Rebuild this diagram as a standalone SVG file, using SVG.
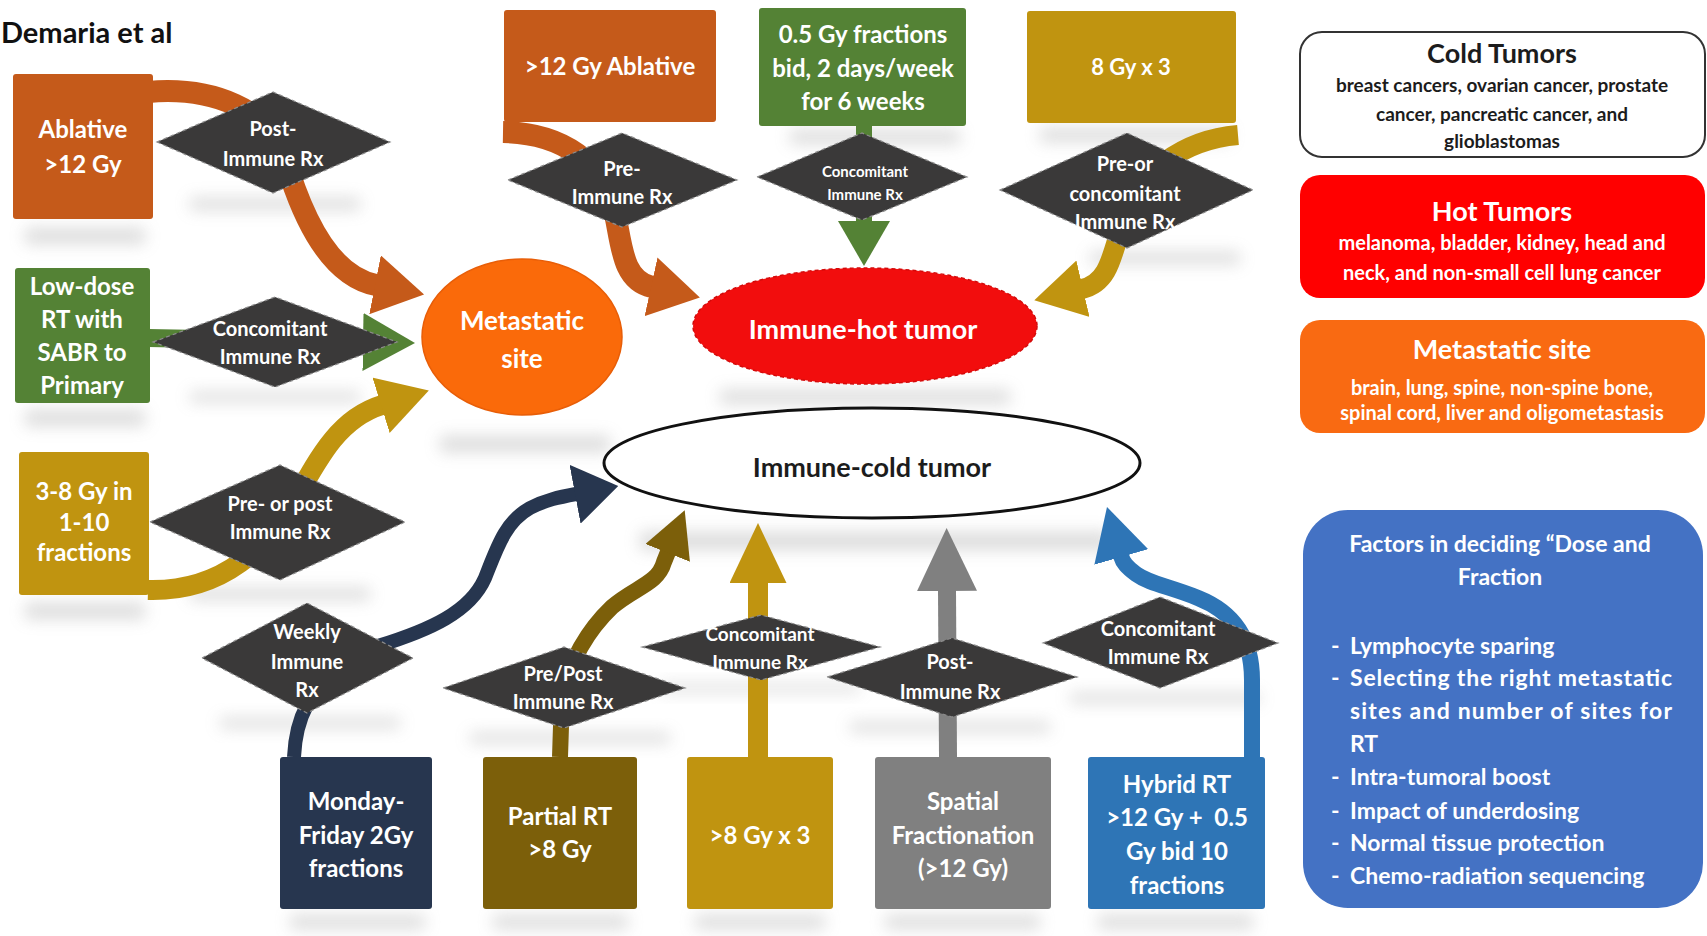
<svg xmlns="http://www.w3.org/2000/svg" width="1707" height="936" viewBox="0 0 1707 936">
<defs>
<style>
.t{font-family:Lato,'Liberation Sans',sans-serif;font-weight:700;text-anchor:middle}
.w{fill:#ffffff}
.k{fill:#1c1c1c}
.bx{font-size:24px}
.dt{font-size:20px}
.lt{font-size:27px}
.lb{font-size:19px}
.dia{fill:#3a3939;stroke:#8c8c8c;stroke-width:1.2;stroke-dasharray:4 3}
.sh{fill:#9a9a9a;opacity:0.35;filter:url(#blur)}
.c{fill:none;stroke-linecap:butt;stroke-linejoin:round}
</style>
<filter id="blur" x="-30%" y="-150%" width="160%" height="400%"><feGaussianBlur stdDeviation="8"/></filter>
<marker id="hOrange" markerUnits="userSpaceOnUse" viewBox="0 0 50 60" markerWidth="50" markerHeight="60" refX="1" refY="30" orient="auto"><path d="M0,0 L50,30 L0,60 Z" fill="#c55a1a"/></marker>
<marker id="hGreen" markerUnits="userSpaceOnUse" viewBox="0 0 52 58" markerWidth="52" markerHeight="58" refX="1" refY="29" orient="auto"><path d="M0,0 L52,29 L0,58 Z" fill="#548235"/></marker>
<marker id="hGreenS" markerUnits="userSpaceOnUse" viewBox="0 0 45 52" markerWidth="45" markerHeight="52" refX="1" refY="26" orient="auto"><path d="M0,0 L45,26 L0,52 Z" fill="#548235"/></marker>
<marker id="hGold" markerUnits="userSpaceOnUse" viewBox="0 0 50 58" markerWidth="50" markerHeight="58" refX="1" refY="29" orient="auto"><path d="M0,0 L50,29 L0,58 Z" fill="#c09410"/></marker>
<marker id="hGoldL" markerUnits="userSpaceOnUse" viewBox="0 0 60 57" markerWidth="60" markerHeight="57" refX="1" refY="28.5" orient="auto"><path d="M0,0 L60,28.5 L0,57 Z" fill="#c09410"/></marker>
<marker id="hNavy" markerUnits="userSpaceOnUse" viewBox="0 0 44 60" markerWidth="44" markerHeight="60" refX="1" refY="30" orient="auto"><path d="M0,0 L44,30 L0,60 Z" fill="#27364f"/></marker>
<marker id="hBrown" markerUnits="userSpaceOnUse" viewBox="0 0 46 48" markerWidth="46" markerHeight="48" refX="1" refY="24" orient="auto"><path d="M0,0 L46,24 L0,48 Z" fill="#7c5f0a"/></marker>
<marker id="hGray" markerUnits="userSpaceOnUse" viewBox="0 0 63 60" markerWidth="63" markerHeight="60" refX="1" refY="30" orient="auto"><path d="M0,0 L63,30 L0,60 Z" fill="#808080"/></marker>
<marker id="hBlue" markerUnits="userSpaceOnUse" viewBox="0 0 52 56" markerWidth="52" markerHeight="56" refX="1" refY="28" orient="auto"><path d="M0,0 L52,28 L0,56 Z" fill="#2e75b6"/></marker>
</defs>
<rect width="1707" height="936" fill="#ffffff"/>

<g id="shadows">
<rect class="sh" x="25" y="228" width="120" height="16"/>
<rect class="sh" x="25" y="410" width="120" height="16"/>
<rect class="sh" x="25" y="603" width="120" height="16"/>
<rect class="sh" x="190" y="198" width="170" height="12"/>
<rect class="sh" x="190" y="392" width="170" height="10"/>
<rect class="sh" x="190" y="588" width="180" height="12"/>
<rect class="sh" x="440" y="436" width="170" height="16"/>
<rect class="sh" x="790" y="130" width="170" height="14"/>
<rect class="sh" x="1040" y="128" width="190" height="14"/>
<rect class="sh" x="1090" y="252" width="150" height="12"/>
<rect class="sh" x="720" y="390" width="290" height="14"/>
<rect class="sh" x="640" y="532" width="470" height="18"/>
<rect class="sh" x="220" y="718" width="180" height="10"/>
<rect class="sh" x="470" y="733" width="200" height="10"/>
<rect class="sh" x="660" y="684" width="200" height="8"/>
<rect class="sh" x="850" y="722" width="200" height="10"/>
<rect class="sh" x="1070" y="693" width="190" height="10"/>
<rect class="sh" x="290" y="915" width="135" height="14"/>
<rect class="sh" x="493" y="915" width="135" height="14"/>
<rect class="sh" x="695" y="915" width="130" height="14"/>
<rect class="sh" x="885" y="915" width="155" height="14"/>
<rect class="sh" x="1098" y="915" width="155" height="14"/>
</g>

<g id="connectors">
<path class="c" d="M148 92 C215 86 268 112 283 152 C298 205 325 275 376 285" stroke="#c55a1a" stroke-width="22" marker-end="url(#hOrange)"/>
<path class="c" d="M148 338 L364 342" stroke="#548235" stroke-width="18" marker-end="url(#hGreen)"/>
<path class="c" d="M148 590 C225 592 268 545 295 500 C320 455 340 418 382 405" stroke="#c09410" stroke-width="20" marker-end="url(#hGold)"/>
<path class="c" d="M503 132 C565 133 602 165 613 205 C622 240 620 280 652 287" stroke="#c55a1a" stroke-width="22" marker-end="url(#hOrange)"/>
<path class="c" d="M864 122 L864 222" stroke="#548235" stroke-width="16" marker-end="url(#hGreenS)"/>
<path class="c" d="M1238 135 C1180 140 1140 175 1126 212 C1112 250 1112 282 1082 289" stroke="#c09410" stroke-width="20" marker-end="url(#hGold)"/>
<path class="c" d="M294 757 C295 735 300 718 307 705 L378 646 C430 630 470 612 485 578 C497 548 505 522 530 508 C545 500 560 497 576 494" stroke="#27364f" stroke-width="14" marker-end="url(#hNavy)"/>
<path class="c" d="M560 757 L562 695 C572 655 590 628 612 607 C635 587 658 584 664 562 L668 552" stroke="#7c5f0a" stroke-width="16" marker-end="url(#hBrown)"/>
<path class="c" d="M758 757 L758 582" stroke="#c09410" stroke-width="20" marker-end="url(#hGoldL)"/>
<path class="c" d="M948 757 L947 590" stroke="#808080" stroke-width="18" marker-end="url(#hGray)"/>
<path class="c" d="M1252 757 L1252 680 C1252 632 1228 610 1198 598 C1168 586 1150 584 1136 574 C1127 567 1123 563 1121 556" stroke="#2e75b6" stroke-width="16" marker-end="url(#hBlue)"/>
</g>

<text x="1" y="43" style="font-family:Lato,'Liberation Sans',sans-serif;font-weight:700;font-size:29px" fill="#111111">Demaria et al</text>

<g id="n-ablative"><rect x="13" y="74" width="140" height="145" rx="3" fill="#c55a1a"/><text class="t w bx" x="83" y="138">Ablative</text><text class="t w bx" x="83" y="173">&gt;12 Gy</text></g>
<g id="n-lowdose"><rect x="15" y="268" width="135" height="135" rx="3" fill="#548235"/><text class="t w bx" x="82" y="295">Low-dose</text><text class="t w bx" x="82" y="328">RT with</text><text class="t w bx" x="82" y="361">SABR to</text><text class="t w bx" x="82" y="394">Primary</text></g>
<g id="n-3to8"><rect x="19" y="452" width="130" height="143" rx="3" fill="#c09410"/><text class="t w bx" x="84" y="500">3-8 Gy in</text><text class="t w bx" x="84" y="531">1-10</text><text class="t w bx" x="84" y="561">fractions</text></g>
<g id="n-top-ablative"><rect x="504" y="10" width="212" height="112" rx="3" fill="#c55a1a"/><text class="t w bx" x="610" y="75">&gt;12 Gy Ablative</text></g>
<g id="n-05gy"><rect x="759" y="8" width="207" height="118" rx="3" fill="#548235"/><text class="t w bx" x="863" y="43">0.5 Gy fractions</text><text class="t w bx" x="863" y="77">bid, 2 days/week</text><text class="t w bx" x="863" y="110">for 6 weeks</text></g>
<g id="n-8gy"><rect x="1027" y="11" width="209" height="112" rx="3" fill="#c09410"/><text class="t w" style="font-size:22px" x="1131" y="75">8 Gy x 3</text></g>

<g id="d-post1"><polygon class="dia" points="157,142 273,92 390,142 273,193"/><text class="t w dt" x="273" y="136">Post-</text><text class="t w dt" x="273" y="166">Immune Rx</text></g>
<g id="d-conc1"><polygon class="dia" points="153,342 275,297 397,342 275,387"/><text class="t w dt" x="270" y="336">Concomitant</text><text class="t w dt" x="270" y="364">Immune Rx</text></g>
<g id="d-prepost1"><polygon class="dia" points="150,522 280,465 405,522 280,580"/><text class="t w dt" x="280" y="511">Pre- or post</text><text class="t w dt" x="280" y="539">Immune Rx</text></g>
<g id="d-pre"><polygon class="dia" points="508,180 622,133 737,180 622,227"/><text class="t w dt" x="622" y="176">Pre-</text><text class="t w dt" x="622" y="204">Immune Rx</text></g>
<g id="d-conc2"><polygon class="dia" points="757,177 862,133 967,177 862,220"/><text class="t w" style="font-size:15px" x="865" y="177">Concomitant</text><text class="t w" style="font-size:15px" x="865" y="200">Immune Rx</text></g>
<g id="d-preconc"><polygon class="dia" points="1000,190 1127,133 1253,190 1127,248"/><text class="t w dt" x="1125" y="171">Pre-or</text><text class="t w dt" x="1125" y="201">concomitant</text><text class="t w dt" x="1125" y="229">Immune Rx</text></g>

<g id="n-metastatic"><ellipse cx="522" cy="337" rx="100" ry="78" fill="#fa6a0a" stroke="#e85e08" stroke-width="1.5"/><text class="t w" style="font-size:26px" x="522" y="330">Metastatic</text><text class="t w" style="font-size:26px" x="522" y="368">site</text></g>
<g id="n-hot"><ellipse cx="865" cy="326" rx="172" ry="58" fill="#f20d0d" stroke="#d40a0a" stroke-width="1.5" stroke-dasharray="4 3"/><text class="t w" style="font-size:27px" x="863" y="339">Immune-hot tumor</text></g>
<g id="n-cold"><ellipse cx="872" cy="463" rx="268" ry="55" fill="#ffffff" stroke="#111111" stroke-width="3"/><text class="t k" style="font-size:27px" x="872" y="477">Immune-cold tumor</text></g>

<g id="d-weekly"><polygon class="dia" points="202,658 307,603 413,658 307,713"/><text class="t w dt" x="307" y="639">Weekly</text><text class="t w dt" x="307" y="669">Immune</text><text class="t w dt" x="307" y="697">Rx</text></g>
<g id="d-prepost2"><polygon class="dia" points="443,688 564,647 685,688 564,728"/><text class="t w dt" x="563" y="681">Pre/Post</text><text class="t w dt" x="563" y="709">Immune Rx</text></g>
<g id="d-conc3"><polygon class="dia" points="642,647 761,615 880,647 761,680"/><text class="t w" style="font-size:19px" x="760" y="641">Concomitant</text><text class="t w" style="font-size:19px" x="760" y="669">Immune Rx</text></g>
<g id="d-post2"><polygon class="dia" points="827,677 952,638 1077,677 952,717"/><text class="t w dt" x="950" y="669">Post-</text><text class="t w dt" x="950" y="699">Immune Rx</text></g>
<g id="d-conc4"><polygon class="dia" points="1043,643 1160,597 1278,643 1160,688"/><text class="t w dt" x="1158" y="636">Concomitant</text><text class="t w dt" x="1158" y="664">Immune Rx</text></g>

<g id="n-monday"><rect x="280" y="757" width="152" height="152" rx="3" fill="#27364f"/><text class="t w bx" x="356" y="810">Monday-</text><text class="t w bx" x="356" y="844">Friday 2Gy</text><text class="t w bx" x="356" y="877">fractions</text></g>
<g id="n-partial"><rect x="483" y="757" width="154" height="152" rx="3" fill="#7c5f0a"/><text class="t w bx" x="560" y="825">Partial RT</text><text class="t w bx" x="560" y="858">&gt;8 Gy</text></g>
<g id="n-8x3"><rect x="687" y="757" width="146" height="152" rx="3" fill="#c09410"/><text class="t w bx" x="760" y="844">&gt;8 Gy x 3</text></g>
<g id="n-spatial"><rect x="875" y="757" width="176" height="152" rx="3" fill="#808080"/><text class="t w bx" x="963" y="810">Spatial</text><text class="t w bx" x="963" y="844">Fractionation</text><text class="t w bx" x="963" y="877">(&gt;12 Gy)</text></g>
<g id="n-hybrid"><rect x="1088" y="757" width="177" height="152" rx="3" fill="#2e75b6"/><text class="t w bx" x="1177" y="793">Hybrid RT</text><text class="t w bx" x="1177" y="826" xml:space="preserve">&gt;12 Gy +  0.5</text><text class="t w bx" x="1177" y="860">Gy bid 10</text><text class="t w bx" x="1177" y="894">fractions</text></g>

<g id="legend-cold"><rect x="1300" y="32" width="405" height="125" rx="22" fill="#ffffff" stroke="#333333" stroke-width="2"/><text class="t k lt" x="1502" y="63">Cold Tumors</text><text class="t k lb" x="1502" y="92">breast cancers, ovarian cancer, prostate</text><text class="t k lb" x="1502" y="121">cancer, pancreatic cancer, and</text><text class="t k lb" x="1502" y="148">glioblastomas</text></g>
<g id="legend-hot"><rect x="1300" y="175" width="405" height="123" rx="20" fill="#ff0000"/><text class="t w lt" x="1502" y="221">Hot Tumors</text><text class="t w" style="font-size:20px" x="1502" y="250">melanoma, bladder, kidney, head and</text><text class="t w" style="font-size:20px" x="1502" y="280">neck, and non-small cell lung cancer</text></g>
<g id="legend-met"><rect x="1300" y="320" width="405" height="113" rx="20" fill="#f96a12"/><text class="t w lt" x="1502" y="359">Metastatic site</text><text class="t w" style="font-size:20px" x="1502" y="395">brain, lung, spine, non-spine bone,</text><text class="t w" style="font-size:20px" x="1502" y="420">spinal cord, liver and oligometastasis</text></g>

<g id="factors"><rect x="1303" y="510" width="400" height="398" rx="45" fill="#4472c4"/>
<text class="t w" style="font-size:23px" x="1500" y="552">Factors in deciding “Dose and</text>
<text class="t w" style="font-size:23px" x="1500" y="585">Fraction</text>
<g style="font-family:Lato,'Liberation Sans',sans-serif;font-weight:700;font-size:23px" fill="#ffffff">
<text x="1331" y="654">-</text><text x="1350" y="654">Lymphocyte sparing</text>
<text x="1331" y="686">-</text><text x="1350" y="686" textLength="322" lengthAdjust="spacing">Selecting the right metastatic</text>
<text x="1350" y="719" textLength="322" lengthAdjust="spacing">sites and number of sites for</text>
<text x="1350" y="752">RT</text>
<text x="1331" y="785">-</text><text x="1350" y="785">Intra-tumoral boost</text>
<text x="1331" y="819">-</text><text x="1350" y="819">Impact of underdosing</text>
<text x="1331" y="851">-</text><text x="1350" y="851">Normal tissue protection</text>
<text x="1331" y="884">-</text><text x="1350" y="884">Chemo-radiation sequencing</text>
</g></g>
</svg>
